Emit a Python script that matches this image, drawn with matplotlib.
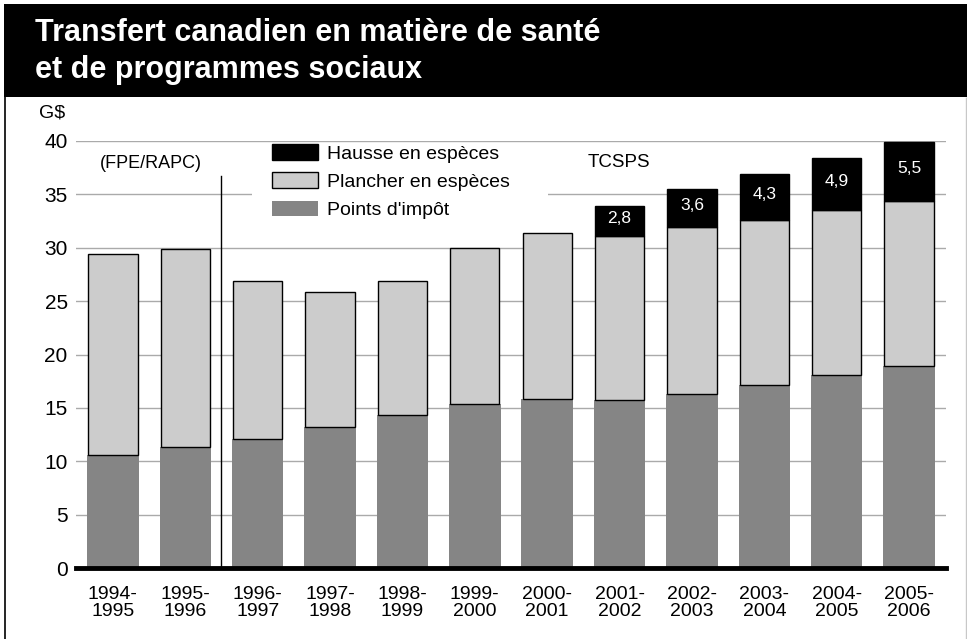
import matplotlib
matplotlib.use("Agg")
import matplotlib.pyplot as plt
from matplotlib.patches import Rectangle, Patch
import numpy as np

plt.rcParams['font.family'] = ['Liberation Sans', 'DejaVu Sans']

years = ["1994-\n1995", "1995-\n1996", "1996-\n1997", "1997-\n1998", "1998-\n1999",
         "1999-\n2000", "2000-\n2001", "2001-\n2002", "2002-\n2003", "2003-\n2004",
         "2004-\n2005", "2005-\n2006"]
tax_points = [10.6, 11.35, 12.1, 13.25, 14.35, 15.4, 15.8, 15.7, 16.3, 17.1, 18.1, 18.9]
cash_floor = [18.8, 18.55, 14.8, 12.6, 12.5, 14.6, 15.55, 15.4, 15.6, 15.5, 15.4, 15.5]
cash_supplement = [0, 0, 0, 0, 0, 0, 0, 2.8, 3.6, 4.3, 4.9, 5.5]
supp_labels = ["", "", "", "", "", "", "", "2,8", "3,6", "4,3", "4,9", "5,5"]
legend_labels = ["Hausse en espèces", "Plancher en espèces", "Points d'impôt"]
yticks = [0, 5, 10, 15, 20, 25, 30, 35, 40]

W, H = 967, 639
fig = plt.figure(figsize=(W / 100, H / 100), dpi=100)

def fx(px):
    return px / W

def fy(py):
    return 1 - py / H

# banner and frame
fig.patches.append(Rectangle((fx(4), fy(97)), 1 - fx(4), fy(4) - fy(97), transform=fig.transFigure,
                             facecolor='black', edgecolor='none', zorder=0))
fig.patches.append(Rectangle((fx(4.5), 0), 0, fy(97), transform=fig.transFigure,
                             facecolor='none', edgecolor='black', lw=1.2, zorder=0))
fig.patches.append(Rectangle((fx(965.5), 0), 0, fy(97), transform=fig.transFigure,
                             facecolor='none', edgecolor='#c8c8c8', lw=1.0, zorder=0))
fig.text(fx(35), fy(41), "Transfert canadien en matière de santé", color='white',
         fontsize=22, fontweight='bold', ha='left', va='baseline')
fig.text(fx(35), fy(78), "et de programmes sociaux", color='white',
         fontsize=22, fontweight='bold', ha='left', va='baseline')

ax = fig.add_axes([fx(76), fy(568), fx(946) - fx(76), fy(141) - fy(568)])
x = np.arange(len(years))
bw = 0.68

tax = np.array(tax_points)
floor = np.array(cash_floor)
supp = np.array(cash_supplement)

ax.bar(x, tax, width=bw + 0.03, color='#858585', edgecolor='none', zorder=3, clip_on=False)
ax.bar(x, floor, bottom=tax, width=bw, color='#cccccc', edgecolor='black', lw=1.0,
       zorder=3, clip_on=False)
mask = supp > 0
ax.bar(x[mask], supp[mask], bottom=(tax + floor)[mask], width=bw, color='black',
       edgecolor='black', lw=1.0, zorder=3, clip_on=False)
for xi, t, f, s, lab in zip(x, tax, floor, supp, supp_labels):
    if s > 0:
        ax.text(xi, t + f + s / 2 + 0.25, lab, color='white', ha='center', va='center',
                fontsize=12.5, zorder=5)

ax.set_xlim(-0.51, 11.51)
ax.set_ylim(0, 40)
ax.set_yticks(yticks)
ax.set_yticklabels([str(v) for v in yticks], fontsize=15)
ax.set_xticks(x)
ax.set_xticklabels(years, fontsize=14, linespacing=1.03)
ax.tick_params(axis='both', length=0)
ax.tick_params(axis='y', pad=6)
ax.tick_params(axis='x', pad=13)
for s in ['top', 'right', 'left']:
    ax.spines[s].set_visible(False)
ax.spines['bottom'].set_linewidth(3.5)
ax.spines['bottom'].set_zorder(6)
ax.yaxis.grid(True, color='#aaaaaa', lw=1.0, zorder=0)
ax.set_axisbelow(True)

# separator between FPE/RAPC and TCSPS
ax.plot([1.495, 1.495], [0, 36.75], color='black', lw=1.0, zorder=4)
ax.text(0.53, 37.9, "(FPE/RAPC)", ha='center', va='center', fontsize=13)
ax.text(6.99, 38.0, "TCSPS", ha='center', va='center', fontsize=13.5)
fig.text(fx(39), fy(113), "G$", fontsize=14, ha='left', va='center')

# legend background
ax.add_patch(Rectangle((1.92, 31.5), 6.01 - 1.92, 39.6 - 31.5, facecolor='white',
                       edgecolor='none', zorder=1))
handles = [Patch(facecolor='black', edgecolor='black', lw=1.0),
           Patch(facecolor='#cccccc', edgecolor='black', lw=1.0),
           Patch(facecolor='#858585', edgecolor='none')]
leg = ax.legend(handles, legend_labels, loc='upper left',
                bbox_to_anchor=(fx(272), fy(144)), bbox_transform=fig.transFigure,
                frameon=False, fontsize=14, borderpad=0, borderaxespad=0,
                handlelength=2.37, handleheight=0.87, labelspacing=0.5, handletextpad=0.46)
leg.set_zorder(5)

fig.savefig("out.png", dpi=100)
